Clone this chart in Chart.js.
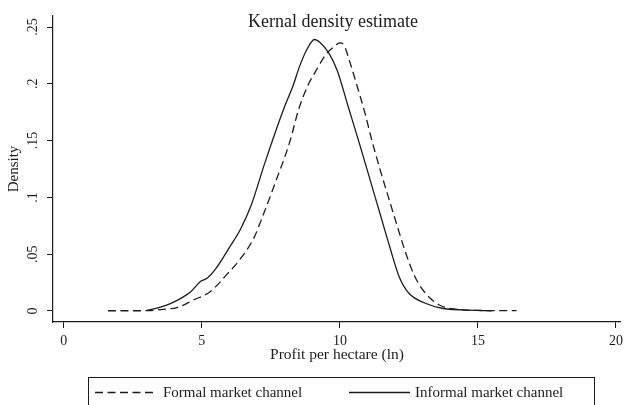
<!DOCTYPE html>
<html>
<head>
<meta charset="utf-8">
<script src="https://cdn.jsdelivr.net/npm/chart.js@4"></script>
<style>
  html, body { margin: 0; padding: 0; background: #fff; }
  #wrap { width: 628px; height: 405px; position: relative; }
</style>
</head>
<body>
<div id="wrap"><canvas id="c" width="628" height="405"></canvas></div>
<script>
// ---- data ----
const chartTitle = "Kernal density estimate";
const xTitle = "Profit per hectare (ln)";
const yTitle = "Density";
const seriesNames = ["Formal market channel", "Informal market channel"];

const xTicks = [0, 5, 10, 15, 20];
const yTicks = [0, 0.05, 0.10, 0.15, 0.20, 0.25];
const yTickLabels = ["0", ".05", ".1", ".15", ".2", ".25"];

const formalX = [1.6, 2.5, 3.1, 3.6, 4.1, 4.7, 5.3, 5.9, 6.4, 6.9, 7.15, 7.6, 8.2, 8.5, 8.85, 9.1, 9.5, 9.8, 10.0, 10.15, 10.35, 10.6, 10.9, 11.15, 11.45, 11.76, 12.1, 12.4, 12.7, 13.1, 13.6, 14.2, 15.0, 16.4];
const formalY = [0.0002, 0.0002, 0.0004, 0.0015, 0.003, 0.0097, 0.017, 0.032, 0.046, 0.065, 0.080, 0.109, 0.150, 0.177, 0.199, 0.210, 0.226, 0.233, 0.236, 0.234, 0.220, 0.200, 0.175, 0.151, 0.125, 0.100, 0.073, 0.050, 0.031, 0.0156, 0.0053, 0.0015, 0.0005, 0.0003];

const informalX = [3.0, 3.3, 3.7, 4.0, 4.3, 4.6, 4.95, 5.2, 5.5, 5.8, 6.0, 6.4, 6.8, 7.25, 7.7, 8.0, 8.3, 8.55, 8.8, 9.08, 9.3, 9.6, 9.9, 10.3, 10.7, 11.1, 11.45, 11.8, 12.15, 12.5, 13.1, 13.7, 14.5, 15.5];
const informalY = [0.0005, 0.002, 0.005, 0.008, 0.012, 0.017, 0.026, 0.029, 0.037, 0.048, 0.056, 0.072, 0.094, 0.128, 0.160, 0.180, 0.198, 0.216, 0.230, 0.239, 0.236, 0.227, 0.212, 0.180, 0.148, 0.115, 0.086, 0.057, 0.030, 0.0156, 0.0068, 0.0024, 0.0009, 0.0002];

// ---- styling ----
const FONT = '"Liberation Serif", "Times New Roman", serif';
const INK = '#1c1c1c';
const DASH = [8, 4.5];

const toPts = (xs, ys) => xs.map((x, i) => ({ x: x, y: ys[i] }));

const titlePlugin = {
  id: 'stataTitle',
  afterDraw(chart) {
    const ctx = chart.ctx;
    ctx.save();
    ctx.fillStyle = INK;
    ctx.font = '18px ' + FONT;
    ctx.textAlign = 'center';
    ctx.textBaseline = 'alphabetic';
    ctx.fillText(chartTitle, 333, 27);
    ctx.restore();
  }
};

const legendPlugin = {
  id: 'stataLegend',
  afterDraw(chart) {
    const ctx = chart.ctx;
    const ds = chart.data.datasets;
    ctx.save();
    ctx.strokeStyle = INK;
    ctx.lineWidth = 1;
    ctx.strokeRect(88.5, 377.5, 506, 40);
    const items = [
      { x0: 95, x1: 157, tx: 163 },
      { x0: 349, x1: 410, tx: 415 }
    ];
    ctx.font = '15px ' + FONT;
    ctx.textBaseline = 'alphabetic';
    ctx.textAlign = 'left';
    items.forEach((it, i) => {
      const d = ds[i];
      ctx.beginPath();
      ctx.setLineDash(d.borderDash || []);
      ctx.lineWidth = d.borderWidth;
      ctx.strokeStyle = d.borderColor;
      ctx.moveTo(it.x0, 392.5);
      ctx.lineTo(it.x1, 392.5);
      ctx.stroke();
      ctx.setLineDash([]);
      ctx.fillStyle = INK;
      ctx.fillText(d.label, it.tx, 397);
    });
    ctx.restore();
  }
};

new Chart(document.getElementById('c'), {
  type: 'line',
  data: {
    datasets: [
      {
        label: seriesNames[0],
        data: toPts(formalX, formalY),
        borderColor: INK,
        borderWidth: 1.3,
        borderDash: DASH,
        pointRadius: 0,
        fill: false,
        cubicInterpolationMode: 'monotone'
      },
      {
        label: seriesNames[1],
        data: toPts(informalX, informalY),
        borderColor: INK,
        borderWidth: 1.3,
        pointRadius: 0,
        fill: false,
        cubicInterpolationMode: 'monotone'
      }
    ]
  },
  options: {
    responsive: false,
    animation: false,
    devicePixelRatio: 1,
    layout: { padding: { top: 16, right: 1, bottom: 35, left: 0 } },
    plugins: {
      legend: { display: false },
      title: { display: false },
      tooltip: { enabled: false }
    },
    scales: {
      x: {
        type: 'linear',
        min: -0.39,
        max: 20.18,
        afterBuildTicks(scale) { scale.ticks = xTicks.map(v => ({ value: v })); },
        afterFit(scale) { scale.height = 48; },
        grid: { display: true, drawOnChartArea: false, drawTicks: true, tickLength: 6, color: INK, lineWidth: 1 },
        border: { display: true, color: INK, width: 1.2 },
        ticks: {
          color: INK,
          font: { family: FONT, size: 14 },
          padding: 5,
          maxRotation: 0,
          callback: (v) => String(v)
        },
        title: {
          display: true,
          text: xTitle,
          color: INK,
          font: { family: FONT, size: 15.5 },
          padding: { top: 0, bottom: 6 }
        }
      },
      y: {
        type: 'linear',
        min: -0.0097,
        max: 0.2597,
        afterBuildTicks(scale) { scale.ticks = yTicks.map(v => ({ value: v })); },
        afterFit(scale) { scale.width = 53; },
        grid: { display: true, drawOnChartArea: false, drawTicks: true, tickLength: 6, color: INK, lineWidth: 1 },
        border: { display: true, color: INK, width: 1.2 },
        ticks: {
          color: INK,
          font: { family: FONT, size: 14 },
          padding: 5,
          minRotation: 90,
          maxRotation: 90,
          crossAlign: 'center',
          callback: (v) => {
            const i = yTicks.findIndex(t => Math.abs(t - v) < 1e-9);
            return i >= 0 ? yTickLabels[i] : '';
          }
        },
        title: {
          display: true,
          text: yTitle,
          color: INK,
          font: { family: FONT, size: 15 },
          padding: { top: 5, bottom: 0 }
        }
      }
    }
  },
  plugins: [titlePlugin, legendPlugin]
});
</script>
</body>
</html>
